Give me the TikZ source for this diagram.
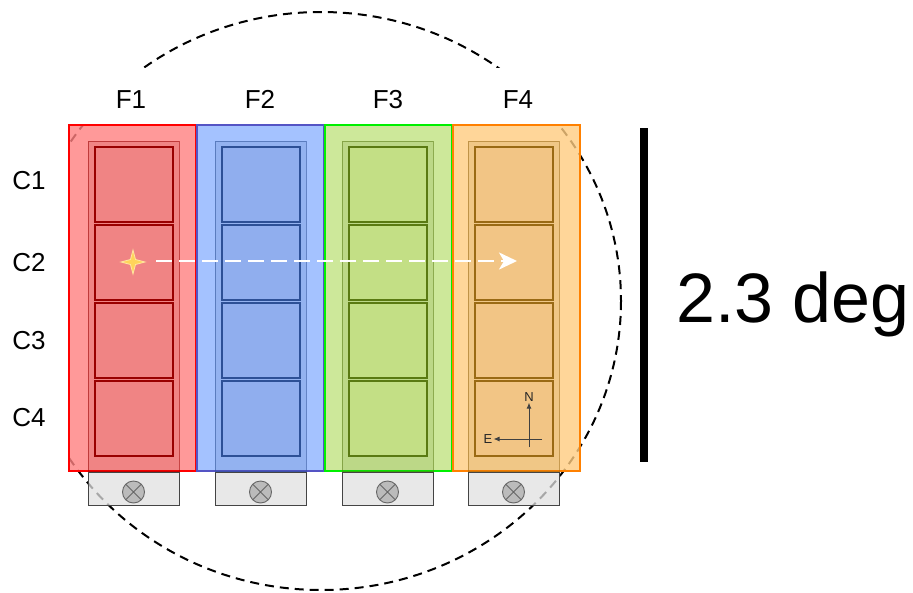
\documentclass[tikz,border=0pt]{standalone}
\usepackage{fontspec}
\setmainfont{Liberation Sans}
\usetikzlibrary{arrows.meta}
\definecolor{ofA}{HTML}{FF8080}\definecolor{odA}{HTML}{FF0000}\definecolor{cfA}{HTML}{F08484}\definecolor{cdA}{HTML}{990000}
\definecolor{ofB}{HTML}{8DB3FF}\definecolor{odB}{HTML}{5454C4}\definecolor{cfB}{HTML}{90AEEE}\definecolor{cdB}{HTML}{2D5096}
\definecolor{ofC}{HTML}{C0E281}\definecolor{odC}{HTML}{00F000}\definecolor{cfC}{HTML}{C3DF85}\definecolor{cdC}{HTML}{5A7A12}
\definecolor{ofD}{HTML}{FFCC80}\definecolor{odD}{HTML}{FF8000}\definecolor{cfD}{HTML}{F2C585}\definecolor{cdD}{HTML}{9A6A14}
\definecolor{grayfill}{HTML}{E0E0E0}\definecolor{grayline}{HTML}{444444}
\definecolor{knob}{HTML}{BBBBBB}\definecolor{knobline}{HTML}{666666}
\definecolor{starfill}{HTML}{FFD45A}\definecolor{starline}{HTML}{FFE7A0}
\tikzset{
  lbl/.style={font=\fontsize{26}{30}\selectfont, inner sep=0pt},
  cmplbl/.style={font=\fontsize{13}{15}\selectfont, inner sep=1pt, text=black!85},
  cmparrow/.style={draw=black!75, line width=0.9pt, -{Latex[length=6pt,width=5pt]}},
  fov/.style={draw=black, line width=2pt, dash pattern=on 9pt off 6pt},
}
\begin{document}
\begin{tikzpicture}[x=1pt,y=-1pt]
\useasboundingbox (0,0) rectangle (913,592);
% field of view ellipse (behind everything)
\draw[fov] (321,301) ellipse [x radius=300, y radius=289];
% columns
\foreach \i/\ox/\fx/\lx/\col in {1/69/88/131/A, 2/197/215/260/B, 3/325/342/388/C, 4/453/468/518/D}{
  \fill[of\col, fill opacity=0.8] (\ox,125) rectangle +(127,346);
  \draw[od\col, line width=1.5pt] (\ox,125) rectangle +(127,346);
  \filldraw[fill=cd\col, fill opacity=0.14, draw=cd\col, draw opacity=0.55, line width=1pt] (\fx,141) rectangle +(91,330);
  \foreach \j in {0,1,2,3}{
    \filldraw[fill=cf\col, draw=cd\col, line width=2.2pt] (\fx+7,147+78*\j) rectangle +(78,75);
  }
  \filldraw[fill=grayfill, fill opacity=0.75, draw=grayline, line width=1pt] (\fx,472) rectangle +(91,33);
  \filldraw[fill=knob, draw=knobline, line width=0.9pt] (\fx+45.5,492) circle (11);
  \draw[knobline, line width=0.9pt] (\fx+45.5,492) +(45:11) -- +(225:11) +(135:11) -- +(-45:11);
  % label background hides the ellipse
  \fill[white] (\ox,68) rectangle +(127,56);
  \node[lbl, anchor=base] (F\i) at (\lx,108) {F\i};
}
% row labels with background
\fill[white] (0,128) rectangle (67.5,472);
\foreach \j/\b in {1/189, 2/271, 3/349, 4/426}{
  \node[lbl, anchor=base] (C\j) at (29,\b) {C\j};
}
% star (pointing position)
\filldraw[fill=starfill, draw=starline, line width=0.8pt]
  (121,262) -- (130.5,259.5) -- (133,250) -- (135.5,259.5) -- (145,262) -- (135.5,264.5) -- (133,274) -- (130.5,264.5) -- cycle;
\coordinate (scanS) at (156,261);
\coordinate (scanE) at (517,261);
\draw[white, line width=2.5pt, dash pattern=on 16pt off 7pt, -{Stealth[length=18pt,width=17pt,inset=5pt]}] (scanS) -- (scanE);
% compass
\node[cmplbl] (N) at (529,397) {N};
\node[cmplbl] (E) at (488,439) {E};
\coordinate (vbot) at (529,447);
\coordinate (hright) at (542,439);
\draw[cmparrow] (vbot) -- (N);
\draw[cmparrow] (hright) -- (E);
% scale bar
\coordinate (barT) at (644,128);
\coordinate (barB) at (644,462);
\draw[black, line width=8pt] (barT) -- (barB);
\node[anchor=base west, inner sep=0pt, font=\fontsize{70}{80}\selectfont] (deg) at (676,322) {2.3 deg};
\end{tikzpicture}
\end{document}
